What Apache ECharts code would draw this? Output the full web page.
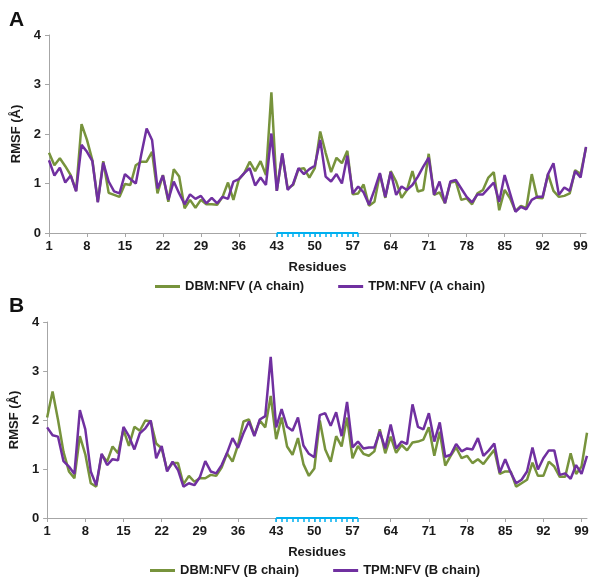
<!DOCTYPE html>
<html>
<head>
<meta charset="utf-8">
<script src="https://cdn.jsdelivr.net/npm/echarts@6/dist/echarts.min.js"></script>
<style>
  html, body { margin: 0; padding: 0; background: #fff; }
  #chart { width: 600px; height: 582px; }
</style>
</head>
<body>
<div id="chart"></div>
<script>
// residue numbers on the x axis
const residues = Array.from({ length: 100 }, (_, i) => String(i + 1))
// residues marked with cyan ticks
const highlight = [43, 44, 45, 46, 47, 48, 49, 50, 51, 52, 53, 54, 55, 56, 57, 58]

// panel A - RMSF values (Å)
const dbmA = [
  1.62, 1.37, 1.51, 1.35, 1.17, 0.85, 2.20, 1.88, 1.47, 0.63,
  1.45, 0.81, 0.77, 0.73, 0.99, 0.97, 1.37, 1.44, 1.44, 1.64,
  0.80, 1.17, 0.63, 1.29, 1.14, 0.50, 0.67, 0.51, 0.67, 0.58,
  0.58, 0.57, 0.73, 1.02, 0.67, 1.08, 1.21, 1.44, 1.25, 1.45,
  1.17, 2.84, 0.85, 1.58, 0.90, 0.97, 1.29, 1.31, 1.12, 1.31,
  2.05, 1.62, 1.23, 1.52, 1.41, 1.66, 0.78, 0.80, 0.98, 0.55,
  0.63, 1.19, 0.71, 1.25, 1.04, 0.71, 0.87, 1.25, 0.84, 0.87,
  1.60, 0.77, 0.82, 0.60, 1.02, 1.04, 0.67, 0.70, 0.58, 0.80,
  0.87, 1.12, 1.23, 0.46, 0.87, 0.70, 0.44, 0.55, 0.50, 1.19,
  0.71, 0.70, 1.19, 0.85, 0.73, 0.75, 0.80, 1.27, 1.19, 1.72
]
const tpmA = [
  1.47, 1.16, 1.32, 1.02, 1.16, 0.84, 1.78, 1.64, 1.45, 0.62,
  1.42, 1.04, 0.84, 0.80, 1.19, 1.09, 1.00, 1.58, 2.11, 1.88,
  0.90, 1.16, 0.67, 1.04, 0.80, 0.58, 0.78, 0.69, 0.75, 0.60,
  0.71, 0.60, 0.73, 0.69, 1.04, 1.09, 1.21, 1.31, 0.96, 1.12,
  0.97, 2.01, 0.85, 1.61, 0.87, 0.99, 1.31, 1.19, 1.29, 1.36,
  1.88, 1.14, 1.04, 1.19, 1.00, 1.56, 0.80, 0.94, 0.82, 0.57,
  0.87, 1.21, 0.73, 1.23, 0.77, 0.94, 0.87, 0.97, 1.14, 1.34,
  1.52, 0.77, 1.04, 0.60, 1.04, 1.07, 0.90, 0.73, 0.62, 0.78,
  0.78, 0.90, 1.02, 0.63, 1.17, 0.80, 0.43, 0.53, 0.48, 0.67,
  0.73, 0.73, 1.19, 1.41, 0.77, 0.92, 0.85, 1.25, 1.12, 1.74
]

// panel B - RMSF values (Å)
const dbmB = [
  2.05, 2.58, 2.00, 1.35, 0.95, 0.81, 1.67, 1.30, 0.71, 0.64,
  1.29, 1.15, 1.46, 1.32, 1.80, 1.47, 1.86, 1.78, 1.99, 1.97,
  1.52, 1.42, 0.98, 1.12, 1.12, 0.69, 0.86, 0.74, 0.81, 0.81,
  0.88, 0.86, 1.03, 1.32, 1.15, 1.49, 1.97, 2.01, 1.69, 1.99,
  1.85, 2.49, 1.61, 2.05, 1.46, 1.29, 1.63, 1.10, 0.86, 1.01,
  1.99, 1.40, 1.15, 1.67, 1.46, 2.05, 1.22, 1.47, 1.31, 1.27,
  1.36, 1.81, 1.32, 1.66, 1.33, 1.49, 1.38, 1.54, 1.56, 1.60,
  1.85, 1.27, 1.76, 1.07, 1.27, 1.44, 1.22, 1.27, 1.12, 1.20,
  1.10, 1.25, 1.39, 0.90, 0.95, 0.95, 0.64, 0.71, 0.78, 1.13,
  0.86, 0.86, 1.15, 1.05, 0.84, 0.84, 1.32, 0.90, 1.05, 1.74
]
const tpmB = [
  1.85, 1.69, 1.66, 1.16, 1.05, 0.90, 2.20, 1.81, 0.95, 0.67,
  1.31, 1.08, 1.20, 1.18, 1.86, 1.67, 1.40, 1.73, 1.83, 1.99,
  1.22, 1.47, 0.95, 1.15, 0.98, 0.64, 0.71, 0.67, 0.83, 1.16,
  0.95, 0.91, 1.08, 1.33, 1.63, 1.43, 1.73, 1.97, 1.67, 2.01,
  2.08, 3.29, 1.85, 2.22, 1.86, 1.78, 2.05, 1.48, 1.31, 1.24,
  2.10, 2.14, 1.88, 2.16, 1.67, 2.37, 1.44, 1.56, 1.42, 1.44,
  1.44, 1.76, 1.42, 1.91, 1.42, 1.56, 1.51, 2.32, 1.86, 1.81,
  2.14, 1.56, 1.95, 1.25, 1.29, 1.51, 1.36, 1.42, 1.40, 1.63,
  1.27, 1.38, 1.52, 0.93, 1.20, 0.93, 0.71, 0.78, 0.95, 1.44,
  0.99, 1.22, 1.38, 1.38, 0.88, 0.91, 0.80, 1.08, 0.90, 1.27
]

const GREEN = '#77933c'
const PURPLE = '#7030a0'
const CYAN = '#00b0f0'
const AXIS_GREY = '#a6a6a6'
const TEXT = '#1a1a1a'
const FONT = 'Liberation Sans, Arial, sans-serif'

const boldText = { color: TEXT, fontWeight: 'bold', fontSize: 13, fontFamily: FONT }

// cyan stretch along the x axis
const cyanLine = residues.map((r) => (highlight.includes(+r) ? 0 : null))

function mainXAxis (gridIndex) {
  return {
    gridIndex,
    type: 'category',
    data: residues,
    boundaryGap: false,
    axisLine: { lineStyle: { color: AXIS_GREY, width: 1 } },
    axisTick: { interval: 6, length: 4, lineStyle: { color: AXIS_GREY } },
    axisLabel: { interval: 6, margin: 7, ...boldText },
    splitLine: { show: false },
    name: 'Residues',
    nameLocation: 'middle',
    nameGap: 28,
    nameTextStyle: boldText
  }
}

function cyanXAxis (gridIndex) {
  return {
    gridIndex,
    type: 'category',
    data: residues,
    boundaryGap: false,
    position: 'bottom',
    axisLine: { show: false },
    axisLabel: { show: false },
    axisTick: {
      show: true,
      length: 4,
      interval: (idx) => highlight.includes(idx + 1),
      lineStyle: { color: CYAN, width: 1.5 }
    },
    splitLine: { show: false }
  }
}

function yAxisFor (gridIndex) {
  return {
    gridIndex,
    type: 'value',
    min: 0,
    max: 4,
    interval: 1,
    axisLine: { show: true, lineStyle: { color: AXIS_GREY, width: 1 } },
    axisTick: { show: true, length: 4, lineStyle: { color: AXIS_GREY } },
    axisLabel: { margin: 8, ...boldText },
    splitLine: { show: false },
    name: 'RMSF (Å)',
    nameLocation: 'middle',
    nameRotate: 90,
    nameGap: 23,
    nameTextStyle: boldText
  }
}

function lineSeries (name, data, color, xIdx, yIdx) {
  return {
    name,
    type: 'line',
    data,
    xAxisIndex: xIdx,
    yAxisIndex: yIdx,
    symbol: 'none',
    color,
    lineStyle: { color, width: 2.5 },
    animation: false
  }
}

function cyanSeries (xIdx, yIdx) {
  return {
    name: 'highlight',
    type: 'line',
    data: cyanLine,
    xAxisIndex: xIdx,
    yAxisIndex: yIdx,
    symbol: 'none',
    clip: false,
    silent: true,
    z: 5,
    lineStyle: { color: CYAN, width: 2 },
    animation: false
  }
}

function legendFor (names, left, top) {
  return {
    data: names,
    left,
    top,
    icon: 'rect',
    itemWidth: 25,
    itemHeight: 3,
    itemGap: 34,
    selectedMode: false,
    textStyle: boldText
  }
}

const chart = echarts.init(document.getElementById('chart'))
chart.setOption({
  backgroundColor: '#fff',
  animation: false,
  title: [
    { text: 'A', left: 4, top: 5, textStyle: { fontSize: 21, fontWeight: 'bold', color: '#111', fontFamily: FONT } },
    { text: 'B', left: 4, top: 291, textStyle: { fontSize: 21, fontWeight: 'bold', color: '#111', fontFamily: FONT } }
  ],
  grid: [
    { left: 49, right: 14, top: 35, height: 198 },
    { left: 44, right: 13, top: 322, height: 196 }
  ],
  xAxis: [mainXAxis(0), cyanXAxis(0), mainXAxis(1), cyanXAxis(1)],
  yAxis: [yAxisFor(0), yAxisFor(1)],
  legend: [
    legendFor(['DBM:NFV (A chain)', 'TPM:NFV (A chain)'], 150, 275),
    legendFor(['DBM:NFV (B chain)', 'TPM:NFV (B chain)'], 145, 559)
  ],
  series: [
    lineSeries('DBM:NFV (A chain)', dbmA, GREEN, 0, 0),
    lineSeries('TPM:NFV (A chain)', tpmA, PURPLE, 0, 0),
    cyanSeries(1, 0),
    lineSeries('DBM:NFV (B chain)', dbmB, GREEN, 2, 1),
    lineSeries('TPM:NFV (B chain)', tpmB, PURPLE, 2, 1),
    cyanSeries(3, 1)
  ]
})
</script>
</body>
</html>
